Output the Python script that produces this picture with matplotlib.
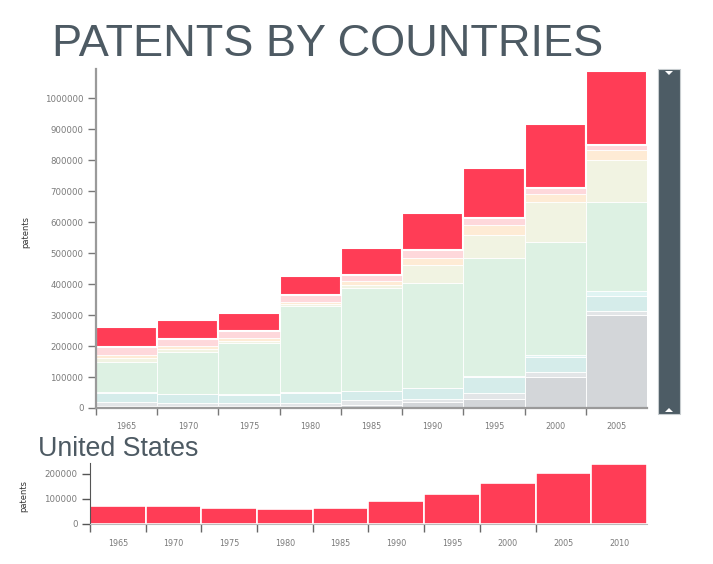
import numpy as np
import matplotlib
matplotlib.use("Agg")
import matplotlib.pyplot as plt
from matplotlib.patches import Rectangle, Polygon

# ----------------------------------------
# data (thousands of patents)
# ----------------------------------------
years = [1965, 1970, 1975, 1980, 1985, 1990, 1995, 2000, 2005]
layer_names = ["gray", "lightgray", "cyan", "lightcyan", "green",
               "yellowgreen", "orange", "pink", "United States"]
gray        = [5, 5, 5, 6, 10, 18, 30, 100, 299]
lightgray   = [13, 11, 11, 10, 15, 11, 18, 15, 15]
cyan        = [32, 29, 27, 34, 29, 35, 52, 49, 48]
lightcyan   = [1, 1, 1, 1, 1, 2, 2, 8, 16]
green       = [99, 135, 166, 277, 334, 337, 383, 365, 288]
yellowgreen = [10, 9, 8, 8, 7, 60, 75, 127, 134]
orange      = [12, 10, 9, 7, 14, 23, 30, 27, 34]
pink        = [25, 22, 22, 21, 19, 23, 23, 19, 16]
us_main     = [66, 61, 59, 62, 87, 122, 163, 206, 239]

us_years  = [1965, 1970, 1975, 1980, 1985, 1990, 1995, 2000, 2005, 2010]
us_values = [70, 70, 63, 59, 62, 90, 120, 163, 204, 239]

layers = [gray, lightgray, cyan, lightcyan, green, yellowgreen, orange, pink, us_main]
colors = ["#d3d6d9", "#e2e5e7", "#d5ecea", "#e0f4f3", "#ddf1e3",
          "#f1f3e2", "#feebd5", "#fed8db", "#ff3d56"]

TXT = "#4d5a63"
TICK = "#7a7a7a"

fig = plt.figure(figsize=(7.13, 5.64), dpi=100)

# ----------------------------------------
# main stacked chart
# ----------------------------------------
ax = fig.add_axes([0.1346, 0.2766, 0.7728, 0.601])
x = np.arange(len(years))
bottom = np.zeros(len(years))
for vals, col, name in zip(layers, colors, layer_names):
	v = np.array(vals) * 1000
	lw = 1.5 if name == "United States" else 0.6
	ax.bar(x, v, width=1, bottom=bottom, align='edge', color=col,
	       edgecolor='white', linewidth=lw, label=name)
	bottom += v

ax.set_xlim(0, len(years))
ax.set_ylim(0, 1095000)
ax.set_yticks(np.arange(0, 1000001, 100000))
ax.set_yticklabels([str(t) for t in range(0, 1000001, 100000)])
ax.set_xticks(x)
ax.set_xticklabels([])
ax.set_xticks(x + 0.5, minor=True)
ax.set_xticklabels([str(y) for y in years], minor=True)
ax.tick_params(axis='x', which='major', length=5, color='#777', width=1)
ax.tick_params(axis='x', which='minor', length=0, pad=10, labelsize=5.8, labelcolor=TICK)
ax.tick_params(axis='y', length=6, color='#777', width=1, pad=3, labelsize=6.2, labelcolor=TICK)
for s in ['top', 'right']:
	ax.spines[s].set_visible(False)
ax.spines['left'].set_color('#9a9a9a')
ax.spines['left'].set_linewidth(1.6)
ax.spines['bottom'].set_color('#9a9a9a')
ax.spines['bottom'].set_linewidth(1.6)
ax.set_ylabel("patents", fontsize=6, color='#333')
ax.yaxis.set_label_coords(-0.12, 0.52)

# scrollbar on the right
fig.patches.append(Rectangle((658/713, 1-414/564), 22/713, 345/564, transform=fig.transFigure,
                             facecolor="#4d5c65", edgecolor="#c8cdd0", linewidth=0.8))
fig.patches.append(Polygon([[665/713, 1-71/564], [673/713, 1-71/564], [669/713, 1-75/564]],
                           closed=True, transform=fig.transFigure, facecolor='white', edgecolor='none'))
fig.patches.append(Polygon([[665/713, 1-412/564], [673/713, 1-412/564], [669/713, 1-408/564]],
                           closed=True, transform=fig.transFigure, facecolor='white', edgecolor='none'))

fig.text(52/713, 1-45/564, "PATENTS BY COUNTRIES", fontsize=32.5, color=TXT,
         family="Liberation Sans", va='center', ha='left')

# ----------------------------------------
# United States chart
# ----------------------------------------
ax2 = fig.add_axes([0.1262, 0.0715, 0.7812, 0.1071])
x2 = np.arange(len(us_years))
ax2.bar(x2, np.array(us_values) * 1000, width=1, align='edge', color="#ff3d56",
        edgecolor='white', linewidth=1.2)
ax2.set_xlim(0, len(us_years))
ax2.set_ylim(0, 242000)
ax2.set_yticks([0, 100000, 200000])
ax2.set_yticklabels(["0", "100000", "200000"])
ax2.set_xticks(x2[:-1])
ax2.set_xticklabels([])
ax2.set_xticks(x2 + 0.5, minor=True)
ax2.set_xticklabels([str(y) for y in us_years], minor=True)
ax2.tick_params(axis='x', which='major', length=6, color='#666', width=1)
ax2.tick_params(axis='x', which='minor', length=0, pad=11, labelsize=5.8, labelcolor=TICK)
ax2.tick_params(axis='y', length=6, color='#555', width=1, pad=3, labelsize=6.2, labelcolor=TICK)
for s in ['top', 'right']:
	ax2.spines[s].set_visible(False)
ax2.spines['left'].set_color('#555')
ax2.spines['bottom'].set_color('#bbbbbb')
ax2.set_ylabel("patents", fontsize=6, color='#333')
ax2.yaxis.set_label_coords(-0.11, 0.45)

fig.text(38/713, 1-449/564, "United States", fontsize=19.3, color=TXT,
         family="Liberation Sans", va='center', ha='left')

plt.savefig("out.png", dpi=100)
